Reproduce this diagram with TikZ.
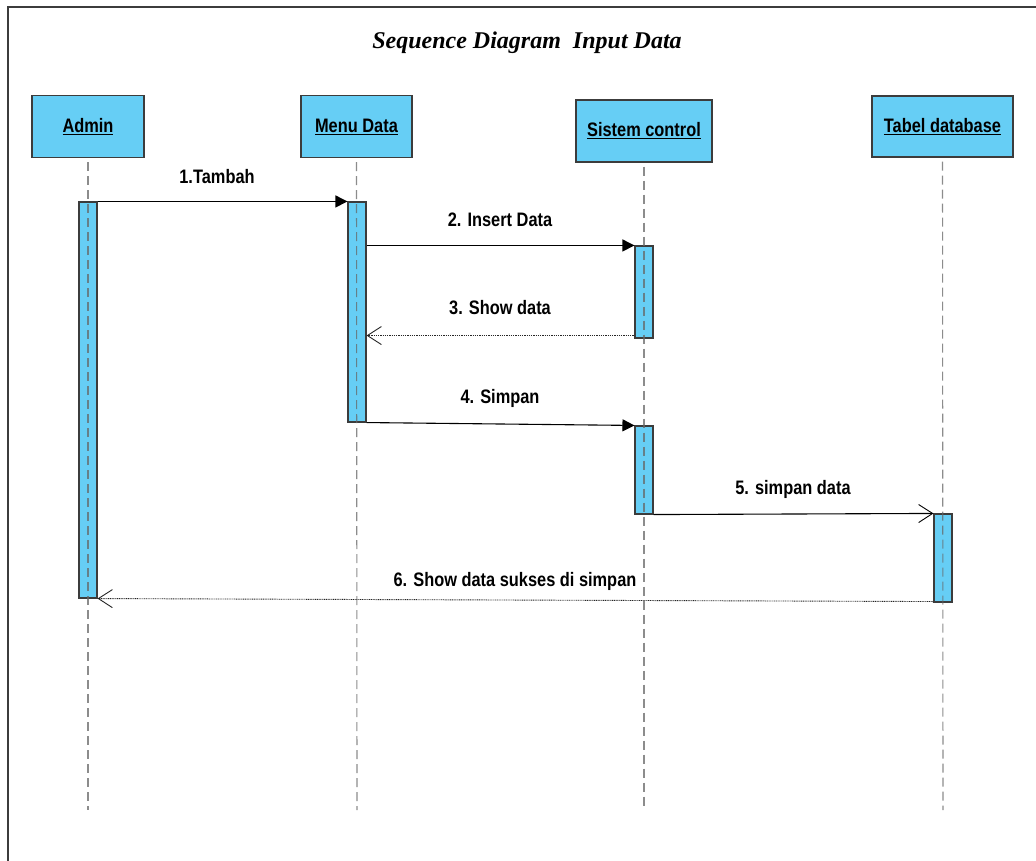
\documentclass[tikz,border=0pt]{standalone}
\usepackage{fontspec}
\usetikzlibrary{arrows.meta}
\newfontfamily\lblfont{Liberation Sans}[FakeStretch=0.84]
\newfontfamily\ttlfont{Liberation Serif}
\definecolor{actfill}{RGB}{102,206,245}
\definecolor{framegray}{RGB}{60,60,60}
\tikzset{
  head/.style={draw=framegray, line width=1.2pt, fill=actfill, minimum height=62pt,
    inner sep=0pt, font=\lblfont\bfseries\fontsize{19.5}{23}\selectfont},
  activation/.style={draw=framegray, line width=1.1pt, fill=actfill, minimum width=18pt, inner sep=0pt},
  lifeline/.style={draw=black!60, line width=1.1pt, dash pattern=on 9pt off 5pt},
  callmsg/.style={draw=black, line width=1.1pt, -{Triangle[length=12pt,width=12pt]}},
  asyncmsg/.style={draw=black, line width=1.1pt, -{Straight Barb[length=14pt,width=18pt,line width=0.9pt]}},
  replymsg/.style={draw=black!85, line width=0.9pt, dash pattern=on 1pt off 0.8pt,
    -{Straight Barb[length=14pt,width=18pt,line width=0.9pt]}},
  msglabel/.style={font=\lblfont\bfseries\fontsize{19.5}{23}\selectfont, inner sep=0pt}
}
\begin{document}
\begin{tikzpicture}[x=1pt,y=-1pt]
\useasboundingbox (0,0) rectangle (1036,861);
\clip (0,0) rectangle (1036,861);
\fill[white] (0,0) rectangle (1036,861);

% outer frame (runs past the right and bottom edges)
\draw[framegray, line width=2pt] (8,900) -- (8,7) -- (1060,7);

% title
\node[font=\ttlfont\bfseries\itshape\fontsize{24}{28}\selectfont] (title) at (527,43) {Sequence Diagram\ \ Input Data};

% object heads
\node[head, minimum width=112pt] (admin) at (88,126.5) {\underline{Admin}};
\node[head, minimum width=111pt] (menu) at (356.5,126.5) {\underline{Menu Data}};
\node[head, minimum width=136pt] (sistem) at (644,131) {\underline{Sistem control}};
\node[head, minimum width=141pt, minimum height=61pt] (tabel) at (942.5,126.5) {\underline{Tabel database}};

% activation bars
\node[activation, minimum height=396pt] (actA) at (88,400) {};
\node[activation, minimum height=220pt] (actM) at (357,312) {};
\node[activation, minimum height=92pt] (actS1) at (644,292) {};
\node[activation, minimum height=88pt] (actS2) at (644,470) {};
\node[activation, minimum height=88pt] (actT) at (943,558) {};

% lifelines
\coordinate (endA) at (88,810);
\coordinate (endM) at (357,810);
\coordinate (endS) at (644,810);
\coordinate (endT) at (943,810);
\begin{scope}[opacity=0.75]
\draw[lifeline] ([yshift=-4pt]admin.south) -- (endA);
\draw[lifeline] ([yshift=-4pt]menu.south) -- (endM);
\draw[lifeline] ([yshift=-4pt]sistem.south) -- (endS);
\draw[lifeline] ([yshift=-4pt]tabel.south) -- (endT);
\end{scope}

% messages
\draw[callmsg] (actA.north east) -- (actM.north west);
\node[msglabel] (l1) at (217,177) {1.Tambah};

\draw[callmsg] (actM.east |- actS1.north) -- (actS1.north west);
\node[msglabel] (l2) at (500,220) {2. Insert Data};

\coordinate (r3) at ([yshift=3pt]actS1.south west);
\draw[replymsg] (r3) -- (actM.east |- r3);
\node[msglabel] (l3) at (500,308) {3. Show data};

\draw[callmsg] (actM.south east) -- (actS2.north west);
\node[msglabel] (l4) at (500,398) {4. Simpan};

\draw[asyncmsg] (actS2.south east) -- (actT.north west);
\node[msglabel] (l5) at (793,489) {5. simpan data};

\coordinate (r6) at ([yshift=1pt]actT.south west);
\draw[replymsg] (r6) -- (actA.south east);
\node[msglabel] (l6) at (515,581) {6. Show data sukses di simpan};
\end{tikzpicture}
\end{document}
